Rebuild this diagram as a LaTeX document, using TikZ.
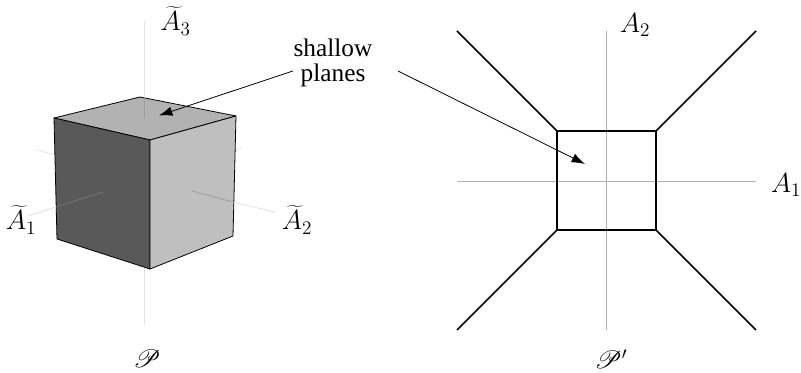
\documentclass[tikz,border=0pt]{standalone}
\usepackage{fontspec}
\usepackage{mathrsfs}
\setmainfont{Liberation Serif}
\usetikzlibrary{arrows.meta}
\tikzset{
  axis/.style={draw=black!30,line width=0.7pt},
  faintaxis/.style={draw=black!10,line width=0.6pt},
  edge/.style={draw=black,line width=1.1pt},
  cubeedge/.style={draw=black,line width=0.6pt,line join=round},
  callout/.style={draw=black,line width=0.6pt,-{Latex[length=10pt,width=7pt]}},
  lab/.style={font=\fontsize{17.28}{21}\selectfont,inner sep=0pt,anchor=center,scale=1.2,transform shape},
  scr/.style={font=\fontsize{17.28}{21}\selectfont,inner sep=0pt,anchor=center,scale=1.08,transform shape},
  txt/.style={font=\fontsize{19}{21}\selectfont,inner sep=0pt,anchor=center,align=center},
}
\begin{document}
\begin{tikzpicture}[x=0.75pt,y=-0.75pt]
\useasboundingbox (0,0) rectangle (801,373);
% left axes behind cube
\coordinate (t3) at (144.5,21); \coordinate (b3) at (144.5,325);
\coordinate (l1) at (37,150); \coordinate (r2) at (242,148);
\draw[faintaxis] (t3) -- (144.5,97);
\draw[faintaxis] (b3) -- (144.5,268);
\draw[faintaxis] (l1) -- (55,155);
\draw[faintaxis] (r2) -- (235,150);
% cube
\coordinate (A) at (54,118); \coordinate (B) at (140,97); \coordinate (C) at (236,116);
\coordinate (D) at (150,140); \coordinate (E) at (57,239); \coordinate (F) at (150,269); \coordinate (G) at (233,236);
\filldraw[cubeedge,fill=black!30] (A) -- (B) -- (C) -- (D) -- cycle;
\filldraw[cubeedge,fill=black!65] (A) -- (D) -- (F) -- (E) -- cycle;
\filldraw[cubeedge,fill=black!25] (D) -- (C) -- (G) -- (F) -- cycle;
% axes over cube
\draw[draw=black!38,line width=0.6pt] (144.5,97) -- (144.5,118);
\draw[draw=black!55,line width=0.6pt] (103,192) -- (56,207);
\draw[draw=black!12,line width=0.6pt] (56,207) -- (28,216);
\draw[draw=black!38,line width=0.6pt] (192,191) -- (233,202);
\draw[draw=black!12,line width=0.6pt] (233,202) -- (275,212);
% right
\coordinate (hl) at (457,181); \coordinate (hr) at (756,181);
\coordinate (vt) at (606.5,31); \coordinate (vb) at (606.5,330);
\draw[axis] (hl) -- (hr);
\draw[axis] (vt) -- (vb);
\coordinate (p) at (557,131); \coordinate (q) at (656,131); \coordinate (r) at (656,230); \coordinate (s) at (557,230);
\draw[edge,line join=miter] (p) -- (q) -- (r) -- (s) -- cycle;
\coordinate (pp) at (457,31); \coordinate (qq) at (756,31); \coordinate (rr) at (756,330); \coordinate (ss) at (457,330);
\draw[edge] (p) -- (pp); \draw[edge] (q) -- (qq); \draw[edge] (r) -- (rr); \draw[edge] (s) -- (ss);
% labels
\node[lab] (a3) at (175.5,21) {$\widetilde{A}_3$};
\node[lab] (a1) at (21,220) {$\widetilde{A}_1$};
\node[lab] (a2) at (297,220) {$\widetilde{A}_2$};
\node[lab] (a2r) at (635,25) {$A_2$};
\node[lab] (a1r) at (786,185) {$A_1$};
\node[scr] (pl) at (147,359) {$\mathscr{P}$};
\node[scr] (pr) at (611,359) {$\mathscr{P}'$};
\node[txt] (sh) at (333,63) {shallow\\[-2pt]planes};
\coordinate (t1) at (293,71); \coordinate (e1) at (159,115.5);
\coordinate (t2) at (398,71); \coordinate (e2) at (585,164);
\draw[callout] (t1) -- (e1);
\draw[callout] (t2) -- (e2);
\end{tikzpicture}
\end{document}
